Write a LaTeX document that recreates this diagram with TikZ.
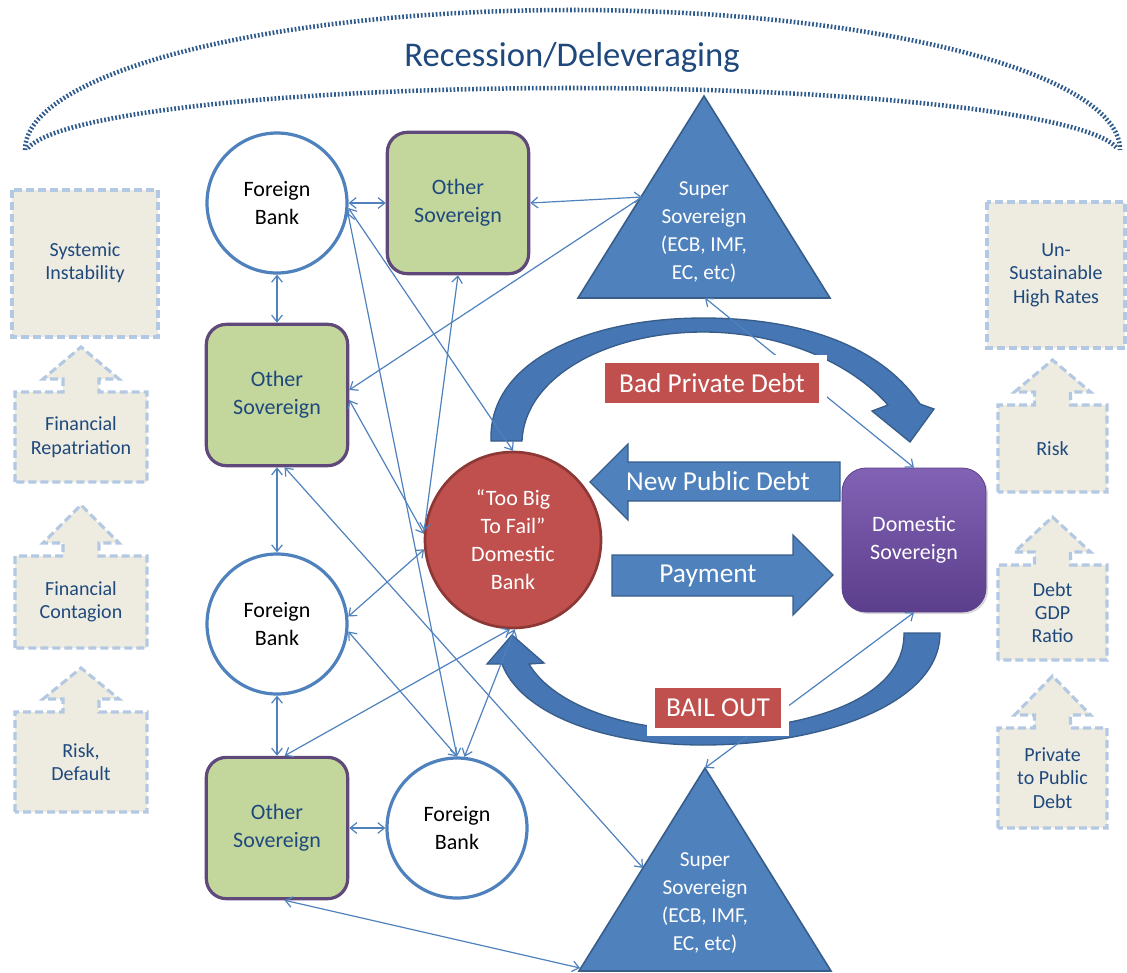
\documentclass[tikz,border=0pt]{standalone}
\usepackage{fontspec}
\setmainfont{Carlito}
\usetikzlibrary{arrows.meta,shadows}

\definecolor{accblue}{HTML}{4F81BD}
\definecolor{accblueD}{HTML}{385D8A}
\definecolor{bendblue}{HTML}{4676B4}
\definecolor{accred}{HTML}{C0504D}
\definecolor{accredD}{HTML}{8C3836}
\definecolor{sovgreen}{HTML}{C3D69B}
\definecolor{sovline}{HTML}{5F497A}
\definecolor{navytext}{HTML}{1F497D}
\definecolor{beige}{HTML}{EEECE1}
\definecolor{dashblue}{HTML}{B3C8E2}
\definecolor{purpleT}{HTML}{8262B4}
\definecolor{purpleB}{HTML}{5B3E8C}
\definecolor{arcblue}{HTML}{2E5A8C}

% box with an up arrow on top: left, right, top, bottom, tip, name, text
\newcommand{\callbox}[7]{%
  \pgfmathsetmacro{\cx}{(#1+#2)/2}
  \draw[riskbox] (#1,#4) -- (#1,#3) -- (\cx-18,#3) -- (\cx-18,#3-13) -- (\cx-38,#3-13) -- (\cx,#5)
    -- (\cx+38,#3-13) -- (\cx+18,#3-13) -- (\cx+18,#3) -- (#2,#3) -- (#2,#4) -- cycle;
  \node[risktext] (#6) at (\cx,{(#3+#4)/2}) {#7};
}

\begin{document}
\begin{tikzpicture}[x=0.75pt, y=-0.75pt,
  >={Straight Barb[length=5pt,width=8pt]},
  nodetext/.style={align=center, font=\fontsize{16.5}{21}\selectfont},
  fbank/.style={nodetext, circle, draw=accblue, line width=2.4pt, fill=white, minimum size=105pt, inner sep=0pt},
  osov/.style={nodetext, rectangle, rounded corners=15pt, draw=sovline, line width=2.4pt, fill=sovgreen,
    text=navytext, minimum size=106pt, inner sep=0pt},
  tbtf/.style={nodetext, circle, draw=accredD, line width=2pt, fill=accred, text=white, minimum size=132pt, inner sep=0pt},
  dsov/.style={nodetext, rectangle, rounded corners=18pt, top color=purpleT, bottom color=purpleB,
    draw=purpleB, line width=0.6pt, text=white, minimum size=108pt, inner sep=0pt,
    drop shadow={shadow xshift=1.5pt, shadow yshift=-1.5pt, opacity=0.3}},
  ssov/.style={fill=accblue, draw=accblueD, line width=1.2pt},
  sstext/.style={align=center, text=white, font=\fontsize{16}{21}\selectfont},
  riskbox/.style={fill=beige, draw=dashblue, line width=2.3pt, dash pattern=on 6pt off 3pt},
  risktext/.style={align=center, text=navytext, font=\fontsize{15}{17.5}\selectfont},
  link/.style={accblue, line width=0.9pt, <->},
  blockarrow/.style={fill=accblue, draw=accblueD, line width=1pt},
  bendarrow/.style={fill=bendblue, draw=accblueD, line width=1pt},
  arrowtext/.style={text=white, font=\fontsize{20.5}{24}\selectfont},
  redlabel/.style={fill=accred, draw=white, line width=6pt, text=white, minimum height=36pt,
    font=\fontsize{20.5}{24}\selectfont, drop shadow={shadow xshift=1.5pt, shadow yshift=-1.5pt, opacity=0.25}},
  recarc/.style={arcblue, line width=3.4pt, dash pattern=on 1.3pt off 1.5pt}]

\useasboundingbox (0,0) rectangle (1127,972);

% recession band
\draw[recarc] (25,150) .. controls (25,73) and (269,10) .. (572,10) .. controls (875,10) and (1120,73) .. (1120,150);
\draw[recarc] (28,148) .. controls (60,112) and (300,88) .. (572,88) .. controls (845,88) and (1085,112) .. (1117,148);
\node[text=navytext, font=\fontsize{26}{30}\selectfont] (recess) at (572,57) {Recession/Deleveraging};

% left column
\draw[riskbox] (12,190) rectangle (158,337);
\node[risktext] (sysinst) at (85,263) {Systemic\\Instability};
\callbox{15}{147}{392}{482}{347}{finrep}{Financial\\Repatriation}
\callbox{15}{147}{556}{648}{505}{fincont}{Financial\\Contagion}
\callbox{15}{147}{712}{812}{668}{riskdef}{Risk,\\Default}

% right column
\draw[riskbox] (987,202) rectangle (1125,348);
\node[risktext] (unsust) at (1056,275) {Un-\\Sustainable\\High Rates};
\callbox{998}{1107}{405}{492}{360}{riskR}{Risk}
\callbox{998}{1107}{565}{660}{517}{debtgdp}{Debt\\GDP\\Ratio}
\callbox{998}{1107}{728}{828}{676}{privpub}{Private\\to Public\\Debt}

% super sovereigns
\filldraw[ssov] (704,96) -- (830,298) -- (578,298) -- cycle;
\node[sstext] (ssA) at (704,232) {Super\\Sovereign\\(ECB, IMF,\\EC, etc)};
\filldraw[ssov] (705,768) -- (831,971) -- (579,971) -- cycle;
\node[sstext] (ssB) at (705,903) {Super\\Sovereign\\(ECB, IMF,\\EC, etc)};
\coordinate (ssAleft) at (642,197);
\coordinate (ssAbase) at (705,298);
\coordinate (ssBtop) at (705,768);
\coordinate (ssBleft) at (643,868);
\coordinate (ssBcorner) at (580,968);

% curved arrows
\filldraw[bendarrow] (491,441) .. controls (488,360) and (590,318) .. (703,318) .. controls (800,318) and (880,345) .. (920,404)
  -- (934,409) -- (910,442) -- (872,411) -- (888,405) .. controls (850,362) and (780,332) .. (703,332)
  .. controls (610,332) and (525,375) .. (522,441) -- cycle;
\filldraw[bendarrow] (940,633) .. controls (940,705) and (820,745) .. (703,745) .. controls (600,745) and (520,712) .. (502,664)
  -- (487,664) -- (512,635) -- (544,663) -- (529,664) .. controls (550,700) and (615,730) .. (703,730)
  .. controls (805,730) and (905,700) .. (904,633) -- cycle;

% banks and sovereigns
\node[fbank] (fbA) at (277,203) {Foreign\\Bank};
\node[osov] (osA) at (458,203) {Other\\Sovereign};
\node[osov] (osB) at (277,395) {Other\\Sovereign};
\node[fbank] (fbB) at (277,624) {Foreign\\Bank};
\node[osov] (osC) at (277,828) {Other\\Sovereign};
\node[fbank] (fbC) at (457,828) {Foreign\\Bank};
\node[tbtf] (tbtf) at (513,540) {“Too Big\\To Fail”\\Domestic\\Bank};
\node[dsov] (dsov) at (914,540) {Domestic\\Sovereign};

% links
\draw[link] (fbA) -- (osA);
\draw[link] (osA.east) -- (ssAleft);
\draw[link,->] (ssAleft) -- (osB.4);
\draw[link] (fbA) -- (osB);
\draw[link] (osB) -- (fbB);
\draw[link] (fbB) -- (osC);
\draw[link] (osC) -- (fbC);
\draw[link] (osC.-84) -- (ssBcorner);
\draw[link] (fbA.-4) -- (tbtf.north);
\draw[link] (fbA.-8) -- (fbC.north);
\draw[link] (osA.south) -- (tbtf.174);
\draw[link] (osB.-4) -- (tbtf.176);
\draw[link] (osB.-84) -- (ssBleft);
\draw[link] (fbB.6) -- (tbtf.186);
\draw[link] (fbB.-6) -- (fbC.north);
\draw[link] (osC.84) -- (tbtf.-92);
\draw[link] (fbC.84) -- (tbtf.-89);
\draw[link] (ssAbase) -- (dsov.north);
\draw[link] (dsov.south) -- (ssBtop);

% straight flows
\filldraw[blockarrow] (840,462) -- (628,462) -- (628,444) -- (590,482) -- (628,520) -- (628,501) -- (840,501) -- cycle;
\node[arrowtext] (newpub) at (718,481) {New Public Debt};
\filldraw[blockarrow] (612,555) -- (793,555) -- (793,535) -- (833,575) -- (793,615) -- (793,596) -- (612,596) -- cycle;
\node[arrowtext] (payment) at (708,576) {Payment};

% labels
\node[redlabel, minimum width=167pt] (badpriv) at (712,383) {Bad Private Debt};
\node[redlabel, minimum width=101pt] (bailout) at (718,708) {BAIL OUT};
\end{tikzpicture}
\end{document}
